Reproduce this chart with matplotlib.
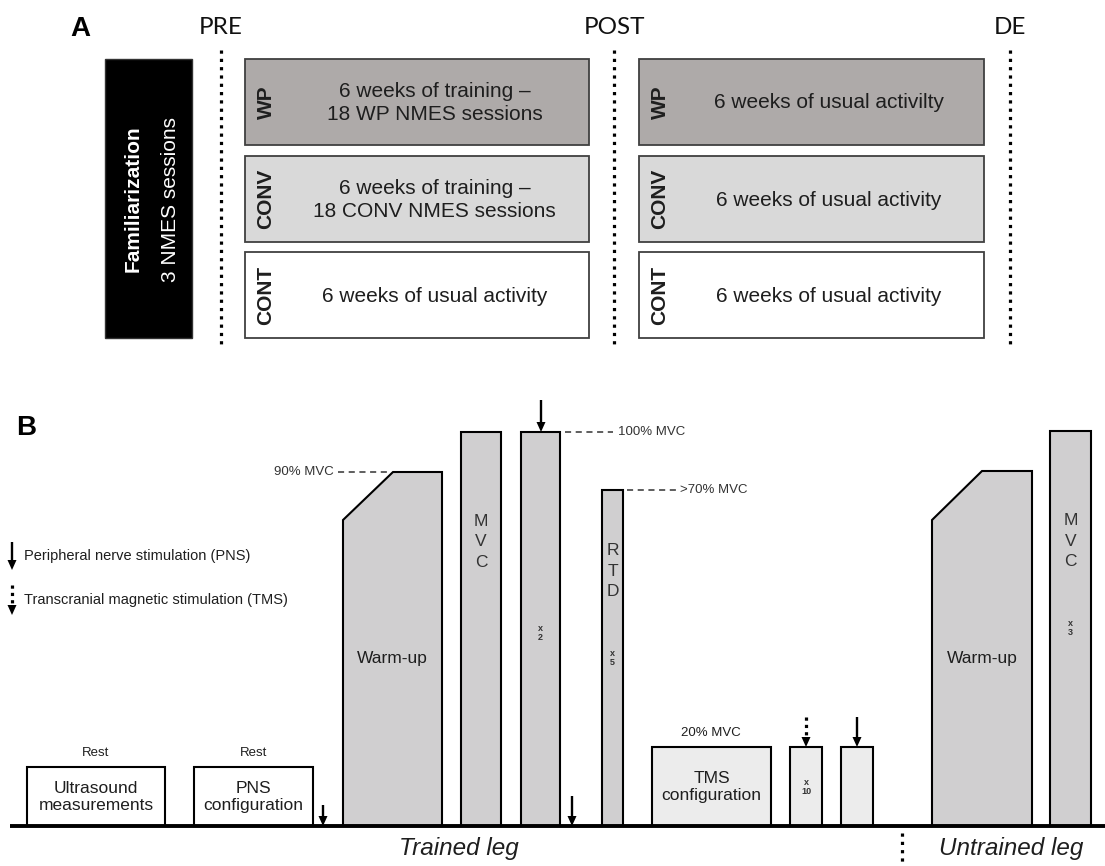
import matplotlib
matplotlib.use("Agg")
import matplotlib.pyplot as plt
from matplotlib.patches import Rectangle, Polygon

# ---------------- data ----------------
# Panel A
timepoints = ["PRE", "POST", "DE"]
timepoint_x = [221, 614, 1010]
groups = ["WP", "CONV", "CONT"]
group_colors = ["#aeaaa9", "#d9d9d9", "#ffffff"]
row_tops = [59, 156, 252]
row_height = 86
phase_x = [(245, 589), (639, 984)]
phase1_text = ["6 weeks of training –\n18 WP NMES sessions",
               "6 weeks of training –\n18 CONV NMES sessions",
               "6 weeks of usual activity"]
phase2_text = ["6 weeks of usual activilty",
               "6 weeks of usual activity",
               "6 weeks of usual activity"]
famil_box = (105, 192, 59, 338)

# Panel B
baseline_y = 826
rest_boxes = [  # x0, x1, top, label
    (27, 165, 767, "Ultrasound\nmeasurements"),
    (194, 313, 767, "PNS\nconfiguration"),
]
bars = [  # x0, x1, top, letters, letters_y, reps, reps_y, fill
    (461, 501, 432, "M\nV\nC", 542, None, None, "#d0cfd0"),
    (521, 560, 432, None, None, "x\n2", 633, "#d0cfd0"),
    (602, 623, 490, "R\nT\nD", 571, "x\n5", 658, "#d0cfd0"),
    (790, 822, 747, None, None, "x\n10", 787, "#ececec"),
    (841, 873, 747, None, None, None, None, "#ececec"),
    (1050, 1091, 431, "M\nV\nC", 541, "x\n3", 628, "#d0cfd0"),
]
tms_box = (652, 771, 747, "TMS\nconfiguration")
warmups = [  # x_left, x_knee, x_right, y_shoulder, y_top
    (343, 393, 442, 520, 472),
    (932, 982, 1032, 520, 471),
]
dashed_refs = [  # x0, x1, y, text, text_x, ha
    (338, 390, 472, "90% MVC", 334, "right"),
    (565, 613, 432, "100% MVC", 618, "left"),
    (627, 677, 490, ">70% MVC", 680, "left"),
]
pns_arrows = [(323, 805, 826), (541, 400, 432), (572, 796, 826), (857, 717, 747)]
tms_arrows = [(806, 717, 747)]

# ---------------- figure ----------------
fig = plt.figure(figsize=(11.05, 8.66), dpi=100)
ax = fig.add_axes([0, 0, 1, 1])
ax.set_xlim(0, 1105)
ax.set_ylim(866, 0)
ax.axis("off")

SANS = "Liberation Sans"
HEAD = "Lato"
TXT = "#1e1e1e"

def arrow_head(x, y_tip, w=9, l=10):
    ax.fill([x - w / 2, x + w / 2, x], [y_tip - l, y_tip - l, y_tip],
            color="black", lw=0, zorder=6)

def pns_arrow(x, y0, y1):
    ax.plot([x, x], [y0, y1 - 8], color="black", lw=1.7, solid_capstyle="butt", zorder=6)
    arrow_head(x, y1)

def tms_arrow(x, y0, y1):
    ax.plot([x, x], [y0, y1 - 10], color="black", lw=2.3,
            linestyle=(0, (1, 1.3)), dash_capstyle="butt", zorder=6)
    arrow_head(x, y1)

# ---------------- Panel A ----------------
ax.text(80, 29, "A", fontsize=20, fontweight="bold", family=SANS,
        ha="center", va="center", color="black")

for name, x in zip(timepoints, timepoint_x):
    ax.text(x, 27, name, fontsize=17.5, family=HEAD, ha="center", va="center", color="#111")
    ax.plot([x, x], [50, 348], color="black", lw=2.3,
            linestyle=(0, (1, 1.6)), dash_capstyle="butt")

x0, x1, y0, y1 = famil_box
ax.add_patch(Rectangle((x0, y0), x1 - x0, y1 - y0, facecolor="black",
                       edgecolor="#333", lw=1))
ax.text(133, 199, "Familiarization", rotation=90, fontsize=15, fontweight="bold",
        family=SANS, color="white", ha="center", va="center")
ax.text(171, 199, "3 NMES sessions", rotation=90, fontsize=15,
        family=SANS, color="white", ha="center", va="center")

for (px0, px1), texts in zip(phase_x, [phase1_text, phase2_text]):
    for g, col, top, t in zip(groups, group_colors, row_tops, texts):
        ax.add_patch(Rectangle((px0, top), px1 - px0, row_height, facecolor=col,
                               edgecolor="#404040", lw=1.3))
        ax.text(px0 + 21, top + row_height / 2, g, rotation=90, fontsize=15,
                fontweight="bold", family=SANS, ha="center", va="center", color=TXT)
        ax.text((px0 + 35 + px1) / 2, top + row_height / 2 + 1, t, fontsize=15,
                family=SANS, ha="center", va="center", color=TXT, linespacing=1.25)

# ---------------- Panel B ----------------
ax.text(26, 428, "B", fontsize=20, fontweight="bold", family=SANS,
        ha="center", va="center", color="black")

# legend
pns_arrow(12, 542, 570)
ax.text(24, 556, "Peripheral nerve stimulation (PNS)", fontsize=10.5, family=SANS,
        ha="left", va="center", color=TXT)
tms_arrow(12, 585, 615)
ax.text(24, 600, "Transcranial magnetic stimulation (TMS)", fontsize=10.5, family=SANS,
        ha="left", va="center", color=TXT)

# rest boxes
for bx0, bx1, top, lab in rest_boxes:
    ax.add_patch(Rectangle((bx0, top), bx1 - bx0, baseline_y - top, facecolor="white",
                           edgecolor="black", lw=1.5, zorder=3))
    ax.text((bx0 + bx1) / 2, 753, "Rest", fontsize=9.5, family=SANS,
            ha="center", va="center", color=TXT)
    ax.text((bx0 + bx1) / 2, 797, lab, fontsize=12.5, family=SANS,
            ha="center", va="center", color=TXT, linespacing=1.12, zorder=4)

# warm-ups
for xl, xk, xr, ys, yt in warmups:
    ax.add_patch(Polygon([(xl, baseline_y), (xl, ys), (xk, yt), (xr, yt), (xr, baseline_y)],
                         closed=True, facecolor="#d0cfd0", edgecolor="black", lw=1.5,
                         zorder=3))
    ax.text((xl + xr) / 2, 658, "Warm-up", fontsize=12.5, family=SANS,
            ha="center", va="center", color=TXT, zorder=4)

# bars
for bx0, bx1, top, letters, ly, reps, ry, fill in bars:
    ax.add_patch(Rectangle((bx0, top), bx1 - bx0, baseline_y - top, facecolor=fill,
                           edgecolor="black", lw=1.5, zorder=3))
    cx = (bx0 + bx1) / 2
    if letters:
        ax.text(cx, ly, letters, fontsize=12.5, family=SANS, ha="center", va="center",
                color="#333", linespacing=1.45, zorder=4)
    if reps:
        ax.text(cx, ry, reps, fontsize=6.5, fontweight="bold", family=SANS,
                ha="center", va="center", color="#333", linespacing=1.1, zorder=4)

# TMS configuration box
tx0, tx1, ttop, tlab = tms_box
ax.add_patch(Rectangle((tx0, ttop), tx1 - tx0, baseline_y - ttop, facecolor="#ececec",
                       edgecolor="black", lw=1.5, zorder=3))
ax.text((tx0 + tx1) / 2, 787, tlab, fontsize=12.5, family=SANS, ha="center", va="center",
        color=TXT, linespacing=1.12, zorder=4)
ax.text((tx0 + tx1) / 2 - 1, 733, "20% MVC", fontsize=9.5, family=SANS,
        ha="center", va="center", color=TXT)

# reference dashed lines
for dx0, dx1, dy, lab, lx, ha in dashed_refs:
    ax.plot([dx0, dx1], [dy, dy], color="#333", lw=1.1, linestyle=(0, (4, 3)))
    ax.text(lx, dy, lab, fontsize=9.5, family=SANS, ha=ha, va="center", color="#333")

# stimulation arrows
for x, a0, a1 in pns_arrows:
    pns_arrow(x, a0, a1)
for x, a0, a1 in tms_arrows:
    tms_arrow(x, a0, a1)

# baseline
ax.plot([10, 1105], [baseline_y, baseline_y], color="black", lw=2.8,
        solid_capstyle="butt", zorder=5)

# leg separator
ax.plot([902, 902], [833, 866], color="black", lw=2.3, linestyle=(0, (1, 1.6)),
        dash_capstyle="butt")
ax.text(459, 849, "Trained leg", fontsize=17.5, style="italic", family=SANS,
        ha="center", va="center", color=TXT)
ax.text(1011, 849, "Untrained leg", fontsize=17.5, style="italic", family=SANS,
        ha="center", va="center", color=TXT)

fig.savefig("out.png", dpi=100)
